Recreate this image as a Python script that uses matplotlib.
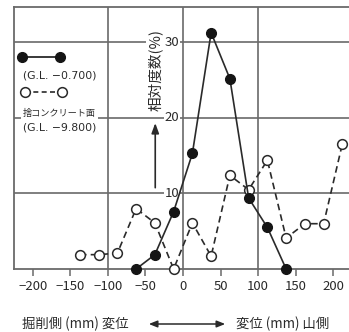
import matplotlib
matplotlib.use("Agg")
import matplotlib.pyplot as plt
from matplotlib.lines import Line2D

plt.rcParams['font.family'] = ['Noto Sans CJK JP', 'DejaVu Sans']

# Displacement classes (mm) and relative frequency (%)
upper_x = [-62.5, -37.5, -12.5, 12.5, 37.5, 62.5, 87.5, 112.5, 137.5]
upper_y = [0.0, 1.9, 7.6, 15.3, 31.3, 25.2, 9.4, 5.5, 0.0]

lower_x = [-137.5, -112.5, -87.5, -62.5, -37.5, -12.5, 12.5, 37.5, 62.5,
           87.5, 112.5, 137.5, 162.5, 187.5, 212.5]
lower_y = [1.9, 1.9, 2.1, 8.0, 6.1, 0.0, 6.1, 1.7, 12.4,
           10.5, 14.4, 4.1, 6.0, 6.0, 16.6]

x_ticks = [-200, -150, -100, -50, 0, 50, 100, 150, 200]
y_ticks = [10, 20, 30]
x_grid = [-100, 0, 100]

W, H = 349, 332
INK = '#2a2a2a'
GRID = '#6a6a6a'


def fig_xy(px, py):
    return px / W, 1 - py / H


fig = plt.figure(figsize=(W / 100, H / 100), dpi=100)
ax = fig.add_axes([14 / W, (H - 269) / H, (W - 14) / W, (269 - 7) / H])
ax.set_xlim(-225.3, 221.3)
ax.set_ylim(0, 34.7)

for s in ['left', 'top', 'bottom']:
    ax.spines[s].set_color(GRID)
    ax.spines[s].set_linewidth(1.3)
ax.spines['right'].set_visible(False)

for gx in x_grid:
    ax.axvline(gx, color=GRID, lw=1.2, zorder=1)
for gy in y_ticks:
    ax.axhline(gy, color=GRID, lw=1.2, zorder=1)

ax.set_xticks(x_ticks)
ax.set_xticklabels([str(t).replace('-', '\u2212') for t in x_ticks])
ax.set_yticks([])
ax.tick_params(axis='x', direction='out', length=5, width=1.1, color=GRID,
               labelsize=9.5, labelcolor=INK, pad=3)

# y values written inside the frame, just left of the zero line
for gy in y_ticks:
    ax.text(-5, gy, str(gy), ha='right', va='center', fontsize=9.5, color=INK,
            bbox=dict(fc='white', ec='none', pad=0.5), zorder=3)

ax.text(-37, 26.3, '相対度数(%)', rotation=90, ha='center', va='center',
        fontsize=10.5, color=INK, bbox=dict(fc='white', ec='none', pad=1), zorder=3)
ax.annotate('', xy=(-37, 19.7), xytext=(-37, 10.4),
            arrowprops=dict(arrowstyle='-|>,head_width=0.22,head_length=0.6',
                            color=INK, lw=1.2), zorder=3)

# G.L. -9.800 (open circles, dashed)
ax.plot(lower_x, lower_y, color=INK, lw=1.2, ls=(0, (4, 2.5)), marker='o',
        ms=7, mfc='white', mec=INK, mew=1.1, zorder=4, clip_on=False)
# G.L. -0.700 (filled circles, solid)
ax.plot(upper_x, upper_y, color=INK, lw=1.2, marker='o', ms=7,
        mfc='#151515', mec='#151515', zorder=5, clip_on=False)

# key in the upper-left corner
x0, y0 = fig_xy(22, 57)
x1, y1 = fig_xy(60, 57)
fig.add_artist(Line2D([x0, x1], [y0, y1], color=INK, lw=1.3, marker='o', ms=7,
                      mfc='#151515', mec='#151515'))
fig.text(*fig_xy(23, 76), '(G.L. \u22120.700)', fontsize=7.8, color=INK,
         family='DejaVu Sans', ha='left', va='center')
x0, y0 = fig_xy(25, 92)
x1, y1 = fig_xy(62, 92)
fig.add_artist(Line2D([x0, x1], [y0, y1], color=INK, lw=1.2, ls=(0, (3, 2)),
                      marker='o', ms=7, mfc='white', mec=INK, mew=1.1))
fig.text(*fig_xy(23, 113), '捨コンクリート面', fontsize=6.6, color=INK,
         ha='left', va='center', bbox=dict(fc='white', ec='none', pad=1.8))
fig.text(*fig_xy(23, 128), '(G.L. \u22129.800)', fontsize=7.8, color=INK,
         family='DejaVu Sans', ha='left', va='center')

# axis caption with double arrow
fig.text(*fig_xy(22, 324), '掘削側 (mm) 変位', fontsize=9.6, color=INK,
         ha='left', va='center')
fig.text(*fig_xy(236, 324), '変位 (mm) 山側', fontsize=9.6, color=INK,
         ha='left', va='center')
ax.annotate('', xy=fig_xy(146, 324), xytext=fig_xy(228, 324),
            xycoords='figure fraction', textcoords='figure fraction',
            arrowprops=dict(arrowstyle='<|-|>,head_width=0.2,head_length=0.5',
                            color=INK, lw=1.1))

fig.savefig('out.png', dpi=100)
